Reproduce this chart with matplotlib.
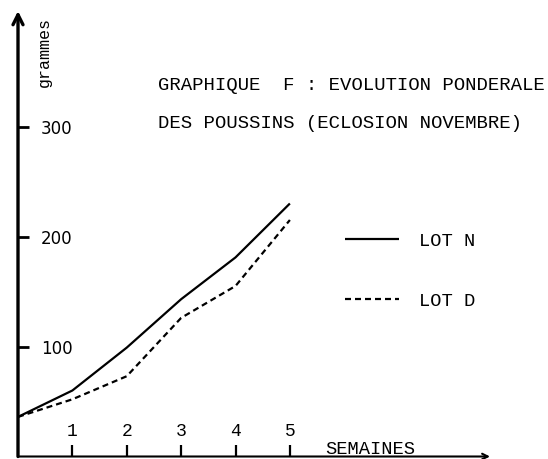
import matplotlib
matplotlib.use("Agg")
import matplotlib.pyplot as plt

# Weekly weight of chicks (grams), November hatching
weeks = [0, 1, 2, 3, 4, 5]
lot_n = [36, 60, 99, 143, 181, 230]
lot_d = [36, 52, 73, 126, 155, 215]

week_ticks = [1, 2, 3, 4, 5]
gram_ticks = [100, 200, 300]

mono = "Liberation Mono"

fig = plt.figure(figsize=(5.48, 4.60), dpi=100)
fig.patch.set_facecolor("white")

# axes placed so that week 0 / 0 g sits at the hand-drawn origin
ax = fig.add_axes([18 / 548, 2.5 / 460, 472 / 548, 445.5 / 460])
ax.set_facecolor("none")
ax.set_xlim(0, 8.68)
ax.set_ylim(0, 405)

ax.plot(weeks, lot_n, color="black", lw=1.6, solid_capstyle="butt", label="LOT N")
ax.plot(weeks, lot_d, color="black", lw=1.6, dashes=(2.7, 1.8), label="LOT D")

for side in ["top", "right", "left", "bottom"]:
    ax.spines[side].set_visible(False)

# axes drawn as arrows
ax.annotate("", xy=(0, 1), xytext=(0, 0), xycoords="axes fraction",
            arrowprops=dict(arrowstyle="->", lw=2.4, color="black",
                            mutation_scale=18, shrinkA=0, shrinkB=0))
ax.annotate("", xy=(1, 0), xytext=(0, 0), xycoords="axes fraction",
            arrowprops=dict(arrowstyle="->", lw=1.5, color="black",
                            mutation_scale=10, shrinkA=0, shrinkB=0))

ax.set_yticks(gram_ticks)
ax.set_yticklabels([str(v) for v in gram_ticks], fontsize=12, family="DejaVu Sans")
ax.tick_params(axis="y", direction="in", length=8, width=2, pad=-16.6)
plt.setp(ax.get_yticklabels(), ha="left")

ax.set_xticks(week_ticks)
ax.set_xticklabels([str(w) for w in week_ticks], fontsize=13, family=mono)
ax.tick_params(axis="x", direction="in", length=9, width=1.6, pad=-19)
plt.setp(ax.get_xticklabels(), va="center")

# texts
fig.text(44 / 548, 1 - 52 / 460, "grammes", rotation=90, ha="center", va="center",
         fontsize=12, family=mono)
fig.text(158 / 548, 1 - 86 / 460, "GRAPHIQUE  F : EVOLUTION PONDERALE",
         ha="left", va="center", fontsize=13.7, family=mono)
fig.text(158 / 548, 1 - 123 / 460, "DES POUSSINS (ECLOSION NOVEMBRE)",
         ha="left", va="center", fontsize=13.7, family=mono)
fig.text(325 / 548, 1 - 450 / 460, "SEMAINES", ha="left", va="center",
         fontsize=13.5, family=mono)

ax.legend(loc="upper left", bbox_to_anchor=(345 / 548, 1 - 233 / 460),
          bbox_transform=fig.transFigure, frameon=False,
          prop=dict(family=mono, size=13.5), handlelength=2.9,
          handletextpad=1.05, labelspacing=2.3, borderpad=0, borderaxespad=0)

fig.savefig("out.png", dpi=100, facecolor="white")
